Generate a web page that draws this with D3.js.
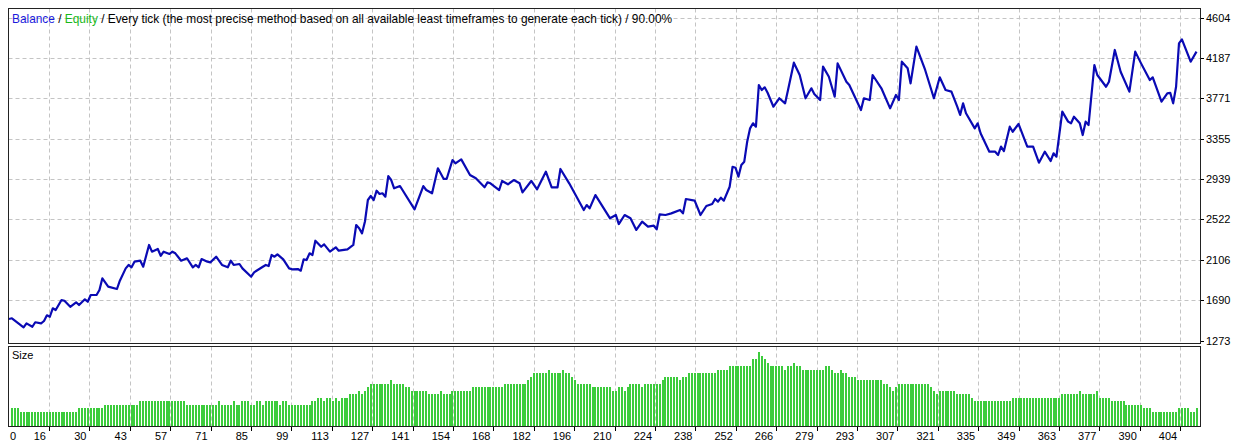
<!DOCTYPE html>
<html><head><meta charset="utf-8">
<script src="https://cdn.jsdelivr.net/npm/d3@7"></script>
<style>
body{margin:0;background:#fff}
svg{display:block}
text{font-family:"Liberation Sans","DejaVu Sans",sans-serif;font-size:11px;fill:#000}
</style>
</head><body>
<svg id="c" width="1234" height="442"></svg>
<script>
// ---------- data ----------
const titleParts = [
  {t:"Balance", c:"#1a1adc"},
  {t:" / ", c:"#000"},
  {t:"Equity", c:"#18b818"},
  {t:" / Every tick (the most precise method based on all available least timeframes to generate each tick) / 90.00%", c:"#000"}
];
const sizeLabel = "Size";
const xTickLabels = [0,16,30,43,57,71,85,99,113,127,141,154,168,182,196,210,224,238,252,266,279,293,307,321,335,349,363,377,390,404];
const yTickLabels = [4604,4187,3771,3355,2939,2522,2106,1690,1273];

// balance curve vertices: trade number and balance after it
const balanceTrade = [0,1,5,6,8,9,11,12,13,14,15,16,18,19,21,23,24,26,27,28,30,31,32,34,37,38,40,41,42,43,45,46,48,49,51,52,53,55,56,57,59,61,63,64,65,66,68,69,71,73,75,76,77,79,80,83,84,87,88,89,90,91,92,94,96,97,99,100,101,102,103,104,105,107,108,110,112,113,116,118,119,120,121,122,123,124,125,126,127,128,129,130,131,132,134,139,142,143,145,147,149,150,152,153,155,158,160,163,164,165,168,169,171,173,175,176,179,181,184,186,188,189,192,197,198,199,201,206,208,209,211,213,215,217,219,221,222,223,225,227,230,231,232,235,237,239,241,242,243,244,245,247,248,249,250,251,252,253,254,255,256,257,258,259,260,262,264,266,267,269,271,273,275,276,278,279,281,283,284,287,288,292,293,295,296,299,302,304,305,306,308,309,311,314,317,319,321,323,325,326,327,328,331,332,333,336,338,339,340,341,343,344,346,349,351,353,355,357,358,359,361,363,364,365,367,368,369,370,372,373,376,377,379,381,384,386,388,391,392,395,397,398,399,400,401,402,405,407];
const balanceValue = [1495,1502,1409,1450,1415,1461,1450,1474,1533,1518,1605,1587,1690,1683,1621,1667,1639,1698,1673,1742,1742,1794,1914,1828,1804,1890,2017,2052,2028,2086,2096,2034,2258,2189,2217,2147,2189,2165,2189,2172,2096,2121,2028,2052,2028,2113,2086,2079,2137,2052,2028,2096,2052,2062,2017,1931,1976,2034,2052,2041,2155,2137,2162,2110,2017,2007,2010,1993,2110,2103,2172,2155,2302,2240,2265,2189,2234,2199,2213,2258,2464,2430,2378,2500,2722,2763,2722,2818,2784,2791,2756,2969,2928,2843,2866,2626,2866,2825,2791,3049,2939,2939,3134,3100,3141,2980,2946,2853,2904,2894,2825,2918,2884,2928,2894,2801,2918,2832,3014,2853,2853,3042,2894,2619,2670,2636,2773,2533,2567,2474,2567,2533,2413,2498,2447,2457,2420,2574,2567,2584,2619,2584,2732,2715,2567,2660,2681,2732,2705,2746,2715,2859,3065,3055,2962,3083,3117,3323,3461,3513,3478,3908,3856,3884,3828,3684,3771,3719,3856,4138,4011,3771,3874,3815,3753,4097,3993,3787,4131,3942,3908,3650,3771,3753,4011,3874,3667,3805,3753,4148,4080,3925,4303,4063,3771,3987,3856,3839,3684,3600,3719,3616,3461,3513,3410,3220,3220,3186,3272,3227,3478,3426,3506,3272,3272,3107,3220,3124,3203,3169,3633,3530,3513,3581,3513,3392,3530,3495,4114,4011,3890,3942,4269,4045,3839,4252,4131,3959,3987,3736,3822,3828,3719,3890,4338,4379,4148,4252];

// lot size of each trade, trades 1..407
const sizes = [
0.05,0.05,0.05,0.04,0.04,0.04,0.04,0.04,0.04,0.04,
0.04,0.04,0.04,0.04,0.04,0.04,0.04,0.04,0.04,0.04,
0.04,0.04,0.04,0.05,0.05,0.05,0.05,0.05,0.05,0.05,
0.05,0.05,0.06,0.06,0.06,0.06,0.06,0.06,0.06,0.06,
0.06,0.06,0.06,0.06,0.07,0.07,0.07,0.07,0.07,0.07,
0.07,0.07,0.07,0.07,0.07,0.07,0.07,0.07,0.07,0.07,
0.06,0.06,0.06,0.06,0.06,0.06,0.06,0.06,0.06,0.06,
0.06,0.07,0.06,0.06,0.06,0.06,0.07,0.06,0.06,0.07,
0.07,0.07,0.06,0.06,0.07,0.07,0.06,0.07,0.07,0.07,
0.07,0.07,0.06,0.07,0.07,0.06,0.06,0.06,0.06,0.06,
0.06,0.06,0.06,0.07,0.07,0.08,0.08,0.07,0.08,0.08,
0.07,0.08,0.07,0.08,0.08,0.08,0.09,0.09,0.09,0.10,
0.09,0.10,0.11,0.12,0.12,0.12,0.12,0.12,0.12,0.12,
0.13,0.12,0.12,0.12,0.12,0.11,0.11,0.10,0.10,0.10,
0.10,0.10,0.10,0.09,0.09,0.09,0.09,0.10,0.09,0.09,
0.09,0.10,0.10,0.10,0.10,0.10,0.10,0.10,0.11,0.11,
0.11,0.11,0.11,0.11,0.11,0.11,0.11,0.11,0.11,0.12,
0.12,0.12,0.12,0.12,0.12,0.12,0.12,0.13,0.14,0.15,
0.15,0.15,0.15,0.15,0.16,0.15,0.15,0.15,0.15,0.16,
0.15,0.15,0.14,0.13,0.12,0.12,0.12,0.12,0.12,0.11,
0.11,0.11,0.11,0.11,0.11,0.11,0.10,0.10,0.11,0.11,
0.10,0.11,0.12,0.12,0.12,0.12,0.11,0.12,0.12,0.12,
0.12,0.12,0.12,0.13,0.14,0.14,0.14,0.14,0.14,0.13,
0.14,0.14,0.15,0.15,0.15,0.15,0.15,0.15,0.15,0.15,
0.15,0.15,0.16,0.16,0.16,0.16,0.17,0.17,0.17,0.17,
0.17,0.17,0.17,0.17,0.19,0.19,0.21,0.20,0.19,0.18,
0.17,0.17,0.17,0.17,0.17,0.16,0.17,0.17,0.18,0.17,
0.17,0.16,0.16,0.16,0.16,0.16,0.16,0.16,0.16,0.17,
0.17,0.16,0.15,0.15,0.16,0.15,0.15,0.14,0.14,0.14,
0.13,0.13,0.13,0.13,0.13,0.13,0.13,0.13,0.13,0.12,
0.12,0.11,0.10,0.11,0.12,0.12,0.12,0.12,0.12,0.12,
0.12,0.12,0.12,0.12,0.12,0.11,0.10,0.09,0.10,0.10,
0.10,0.10,0.10,0.10,0.09,0.09,0.09,0.09,0.09,0.08,
0.07,0.07,0.07,0.07,0.07,0.07,0.07,0.07,0.07,0.07,
0.07,0.07,0.07,0.08,0.08,0.08,0.08,0.08,0.08,0.08,
0.08,0.08,0.08,0.08,0.08,0.08,0.08,0.08,0.08,0.08,
0.09,0.09,0.09,0.09,0.09,0.09,0.10,0.09,0.09,0.09,
0.09,0.09,0.10,0.08,0.08,0.08,0.08,0.07,0.07,0.07,
0.07,0.07,0.06,0.06,0.06,0.06,0.06,0.06,0.05,0.05,
0.05,0.04,0.04,0.04,0.04,0.04,0.04,0.04,0.04,0.04,
0.05,0.05,0.05,0.05,0.04,0.04,0.05
];

// ---------- layout ----------
const W = 1234, H = 442;
const main = {l:8.5, r:1200.5, t:8.5, b:343.5};
const sub  = {l:8.5, r:1200.5, t:346.5, b:426.5};
const nTrades = sizes.length;

const svg = d3.select("#c");

const x = d3.scaleLinear().domain([0, nTrades]).range([9, 1196.5]);
const xGrid = d3.scalePoint().domain(xTickLabels).range([8.6, 8.6 + 40.4*(xTickLabels.length-1)]);
const y = d3.scaleLinear().domain([1273, 4604]).range([340.5, 17.5]);
const ySize = d3.scaleLinear().domain([0, 0.22]).range([425.5, 348.5]);

const gridColor = "#c4c4c4";
const snap = v => Math.round(v) + 0.5;

// clip
const defs = svg.append("defs");
defs.append("clipPath").attr("id","mclip").append("rect")
  .attr("x",main.l).attr("y",main.t).attr("width",main.r-main.l).attr("height",main.b-main.t);

// main grid
const g = svg.append("g");
g.selectAll("line.hg").data(yTickLabels.slice(0, -1)).join("line")
  .attr("x1",main.l).attr("x2",main.r)
  .attr("y1",d=>snap(y(d))).attr("y2",d=>snap(y(d)))
  .attr("stroke",gridColor).attr("stroke-dasharray","4,3");
g.selectAll("line.vg").data(xTickLabels.slice(1)).join("line")
  .attr("x1",d=>snap(xGrid(d))).attr("x2",d=>snap(xGrid(d)))
  .attr("y1",main.t).attr("y2",main.b)
  .attr("stroke",gridColor).attr("stroke-dasharray","4,3");
// sub grid
g.selectAll("line.svg2").data(xTickLabels.slice(1)).join("line")
  .attr("x1",d=>snap(xGrid(d))).attr("x2",d=>snap(xGrid(d)))
  .attr("y1",sub.t).attr("y2",sub.b)
  .attr("stroke",gridColor).attr("stroke-dasharray","4,3");

// balance line
const pts = balanceTrade.map((t,i)=>[t, balanceValue[i]]);
svg.append("path").datum(pts)
  .attr("clip-path","url(#mclip)")
  .attr("fill","none").attr("stroke","#0a0ab4").attr("stroke-width",2.2)
  .attr("stroke-linejoin","round")
  .attr("d", d3.line().x(d=>x(d[0])).y(d=>y(d[1])));

// size bars
svg.append("g").selectAll("rect").data(sizes).join("rect")
  .attr("x",(d,i)=>Math.round(x(i+1))-1)
  .attr("width",2)
  .attr("y",d=>Math.round(ySize(d)))
  .attr("height",d=>Math.round(ySize(0))-Math.round(ySize(d)))
  .attr("fill","#3ccc3c");

// frames
svg.append("rect").attr("x",main.l).attr("y",main.t).attr("width",main.r-main.l).attr("height",main.b-main.t)
  .attr("fill","none").attr("stroke","#222").attr("stroke-width",1);
svg.append("rect").attr("x",sub.l).attr("y",sub.t).attr("width",sub.r-sub.l).attr("height",sub.b-sub.t)
  .attr("fill","none").attr("stroke","#222").attr("stroke-width",1);

// title
const title = svg.append("text").attr("x",12).attr("y",23);
titleParts.forEach(p=>title.append("tspan").text(p.t).style("fill",p.c));
const tw = title.node().getComputedTextLength();
title.style("font-size", (11*661/tw).toFixed(2)+"px");

svg.append("text").attr("x",12).attr("y",359).text(sizeLabel);

// right axis
const ra = svg.append("g");
ra.selectAll("line").data(yTickLabels).join("line")
  .attr("x1",1201).attr("x2",1204).attr("y1",d=>snap(y(d))).attr("y2",d=>snap(y(d))).attr("stroke","#000");
ra.selectAll("text").data(yTickLabels).join("text")
  .attr("x",1206).attr("y",d=>y(d)+4).text(d=>d);

// bottom axis
const ba = svg.append("g");
ba.selectAll("line").data(xTickLabels.slice(1)).join("line")
  .attr("x1",d=>snap(xGrid(d))).attr("x2",d=>snap(xGrid(d))).attr("y1",427).attr("y2",431).attr("stroke","#000");
ba.selectAll("text").data(xTickLabels).join("text")
  .attr("x",(d,i)=> i===0 ? 10 : xGrid(d)-3)
  .attr("text-anchor",(d,i)=> i===0 ? "start" : "end")
  .attr("y",440).text(d=>d);
</script>
</body></html>
